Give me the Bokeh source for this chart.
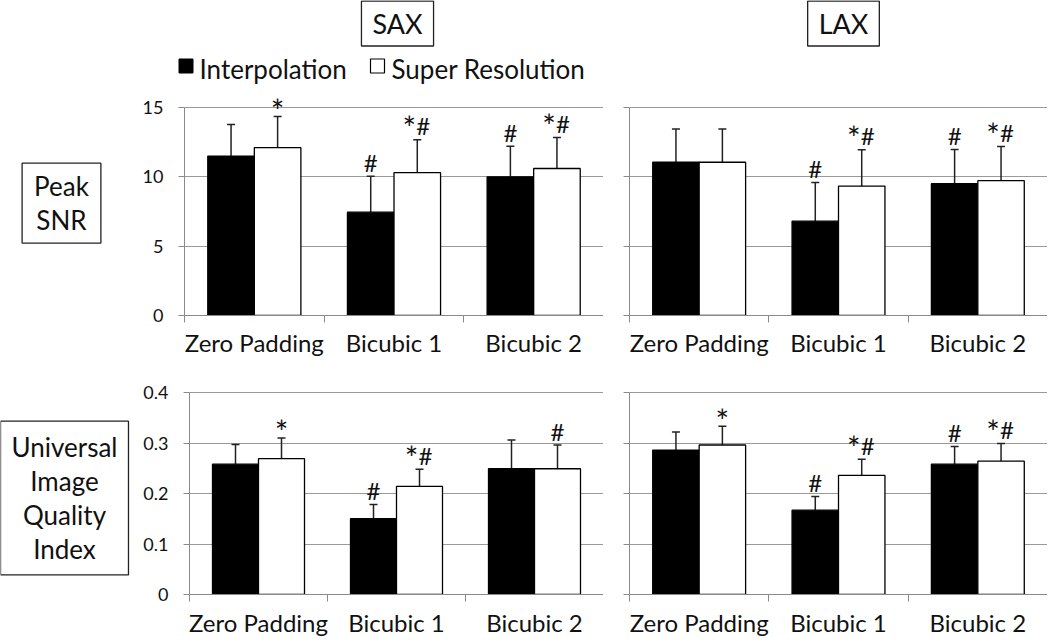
from bokeh.plotting import figure
from bokeh.layouts import column, row
from bokeh.models import (Range1d, FixedTicker, ColumnDataSource, Whisker, TeeHead,
                          Label, CustomJSTickFormatter)
from bokeh.core.properties import value
from bokeh.embed import file_html
from bokeh.resources import INLINE

FONT = "Lato"

# ---------------- data ----------------
categories = ["Zero Padding", "Bicubic 1", "Bicubic 2"]
series = ["Interpolation", "Super Resolution"]
views = ["SAX", "LAX"]
metrics = ["Peak\nSNR", "Universal\nImage\nQuality\nIndex"]

psnr_ticks = [0, 5, 10, 15]
uiqi_ticks = [0, 0.1, 0.2, 0.3, 0.4]

sax_psnr_interp = [11.5, 7.45, 10.0]
sax_psnr_interp_sd = [2.27, 2.6, 2.2]
sax_psnr_sr = [12.1, 10.3, 10.6]
sax_psnr_sr_sd = [2.25, 2.38, 2.23]
sax_psnr_marks_interp = ["", "#", "#"]
sax_psnr_marks_sr = ["*", "*#", "*#"]

lax_psnr_interp = [11.05, 6.8, 9.5]
lax_psnr_interp_sd = [2.4, 2.8, 2.48]
lax_psnr_sr = [11.05, 9.33, 9.72]
lax_psnr_sr_sd = [2.4, 2.62, 2.46]
lax_psnr_marks_interp = ["", "#", "#"]
lax_psnr_marks_sr = ["", "*#", "*#"]

sax_uiqi_interp = [0.258, 0.150, 0.249]
sax_uiqi_interp_sd = [0.039, 0.028, 0.057]
sax_uiqi_sr = [0.269, 0.214, 0.249]
sax_uiqi_sr_sd = [0.041, 0.034, 0.047]
sax_uiqi_marks_interp = ["", "#", ""]
sax_uiqi_marks_sr = ["*", "*#", "#"]

lax_uiqi_interp = [0.286, 0.167, 0.258]
lax_uiqi_interp_sd = [0.036, 0.027, 0.035]
lax_uiqi_sr = [0.296, 0.236, 0.264]
lax_uiqi_sr_sd = [0.037, 0.032, 0.035]
lax_uiqi_marks_interp = ["", "#", "#"]
lax_uiqi_marks_sr = ["*", "*#", "*#"]

GRID = "#9a9a9a"
AXIS = "#8a8a8a"
ERR = "#222222"
TXT = "#111111"


def panel(interp, interp_sd, sr, sr_sd, m_i, m_s, yticks, ytop, width, height,
          left, bottom, show_labels, xstandoff):
    p = figure(width=width, height=height, x_range=Range1d(0, 3),
               y_range=Range1d(0, ytop), output_backend="svg", toolbar_location=None,
               min_border_left=left, min_border_right=0, min_border_top=0,
               min_border_bottom=bottom)
    p.outline_line_color = None
    p.background_fill_color = "white"
    p.border_fill_color = "white"

    centers = [i + 0.5 for i in range(len(categories))]
    for vals, sds, marks, offs, fill in ((interp, interp_sd, m_i, -1 / 6, "black"),
                                         (sr, sr_sd, m_s, 1 / 6, "white")):
        xs = [c + offs for c in centers]
        ups = [v + e for v, e in zip(vals, sds)]
        src = ColumnDataSource(dict(x=xs, top=vals, up=ups, mark=marks))
        p.vbar(x="x", top="top", bottom=0, width=1 / 3, source=src,
               fill_color=fill, line_color="black", line_width=1.3)
        p.add_layout(Whisker(base="x", lower="top", upper="up", source=src,
                             dimension="height", line_color=ERR, line_width=1.5,
                             lower_head=None,
                             upper_head=TeeHead(size=8, line_color=ERR, line_width=1.5)))
        # significance marks: '#' glyphs, asterisk paired with '#', lone asterisk
        hash_x, hash_y, hash_dx = [], [], []
        pair_x, pair_y = [], []
        lone_x, lone_y = [], []
        for x, u, m in zip(xs, ups, marks):
            if "#" in m:
                hash_x.append(x); hash_y.append(u)
                hash_dx.append(6 if "*" in m else 0)
                if "*" in m:
                    pair_x.append(x); pair_y.append(u)
            elif "*" in m:
                lone_x.append(x); lone_y.append(u)
        if hash_x:
            p.text(x=hash_x, y=hash_y, text=["#"] * len(hash_x), x_offset=hash_dx,
                   text_align="center", text_baseline="alphabetic", y_offset=-14,
                   text_font=value(FONT), text_font_size="24px", text_color=TXT)
        if pair_x:
            p.text(x=pair_x, y=pair_y, text=["*"] * len(pair_x), x_offset=-8,
                   text_align="center", text_baseline="alphabetic", y_offset=-12,
                   text_font=value(FONT), text_font_size="32px", text_color=TXT)
        if lone_x:
            p.text(x=lone_x, y=lone_y, text=["*"] * len(lone_x),
                   text_align="center", text_baseline="alphabetic", y_offset=-6,
                   text_font=value(FONT), text_font_size="32px", text_color=TXT)

    # y axis
    yax = p.yaxis[0]
    if show_labels:
        yax.ticker = FixedTicker(ticks=yticks)
        yax.major_tick_line_color = AXIS
        yax.major_tick_in = 0
        yax.major_tick_out = 6
        yax.minor_tick_line_color = None
        yax.major_label_standoff = 15
        yax.major_label_text_font = FONT
        yax.major_label_text_color = TXT
        yax.major_label_text_font_size = "18px"
    else:
        yax.ticker = FixedTicker(ticks=[], minor_ticks=yticks)
        yax.major_tick_line_color = None
        yax.minor_tick_line_color = AXIS
        yax.minor_tick_in = 0
        yax.minor_tick_out = 6
    yax.bounds = (0, yticks[-1])
    yax.axis_line_color = AXIS
    p.ygrid.ticker = FixedTicker(ticks=yticks)
    p.ygrid.grid_line_color = GRID
    p.xgrid.visible = False

    # x axis
    xax = p.xaxis[0]
    xax.ticker = FixedTicker(ticks=centers, minor_ticks=[0, 1, 2, 3])
    xax.formatter = CustomJSTickFormatter(args=dict(labels=categories),
                                          code="return labels[Math.floor(tick)]")
    xax.axis_line_color = AXIS
    xax.major_tick_line_color = None
    xax.major_tick_in = 0
    xax.major_tick_out = 0
    xax.minor_tick_line_color = AXIS
    xax.minor_tick_in = 0
    xax.minor_tick_out = 7
    xax.major_label_standoff = xstandoff
    xax.major_label_text_font = FONT
    xax.major_label_text_color = TXT
    xax.major_label_text_font_size = "24px"
    return p


def canvas(w, h):
    p = figure(width=w, height=h, x_range=Range1d(0, w), y_range=Range1d(h, 0),
               output_backend="svg", toolbar_location=None, min_border=0,
               x_axis_location=None, y_axis_location=None)
    p.grid.visible = False
    p.outline_line_color = None
    p.border_fill_color = "white"
    return p


def boxed(p, x, y, text, size, pad_x, pad_y, lh=1.2):
    p.add_layout(Label(x=x, y=y, text=text, text_align="center", text_baseline="middle",
                       text_font=FONT, text_font_size=size, text_color=TXT,
                       text_line_height=lh,
                       border_line_color="#222222", border_line_width=1.3,
                       background_fill_color="white",
                       padding=dict(top=pad_y, bottom=pad_y, left=pad_x, right=pad_x)))


# ---------------- layout ----------------
W_LAB = 130
HEAD_H = 91
TOP_H = 287
BOT_H = 262
TL_FRAME, TR_FRAME, BL_FRAME = 419, 418, 414

header = canvas(184 + TL_FRAME + 26 + TR_FRAME, HEAD_H)
boxed(header, 397, 23, views[0], "27px", 11, 6)
boxed(header, 843, 23, views[1], "27px", 11, 6)
header.rect(x=[185.5], y=[65.5], width=14, height=14, fill_color="black", line_color="black")
header.text(x=[199], y=[68], text=[series[0]], text_align="left", text_baseline="alphabetic",
            text_font=value(FONT), text_font_size="26px", text_color=TXT)
header.rect(x=[377], y=[65.5], width=14, height=14, fill_color="white", line_color="black",
            line_width=1.2)
header.text(x=[391], y=[68], text=[series[1]], text_align="left", text_baseline="alphabetic",
            text_font=value(FONT), text_font_size="26px", text_color=TXT)

lab_top = canvas(W_LAB, TOP_H)
boxed(lab_top, 61, 143, metrics[0], "26px", 12, 7, 1.06)
lab_bot = canvas(W_LAB, BOT_H)
boxed(lab_bot, 64, 145, metrics[1], "26px", 11, 10, 1.06)

ytop_psnr = 15 + 16 / (208 / 15)
ytop_uiqi = 0.4 + 14 / (202 / 0.4)

tl = panel(sax_psnr_interp, sax_psnr_interp_sd, sax_psnr_sr, sax_psnr_sr_sd,
           sax_psnr_marks_interp, sax_psnr_marks_sr, psnr_ticks, ytop_psnr,
           (184 - W_LAB) + TL_FRAME, TOP_H, 184 - W_LAB, 63, True, 5)
tr = panel(lax_psnr_interp, lax_psnr_interp_sd, lax_psnr_sr, lax_psnr_sr_sd,
           lax_psnr_marks_interp, lax_psnr_marks_sr, psnr_ticks, ytop_psnr,
           26 + TR_FRAME, TOP_H, 26, 63, False, 5)
bl = panel(sax_uiqi_interp, sax_uiqi_interp_sd, sax_uiqi_sr, sax_uiqi_sr_sd,
           sax_uiqi_marks_interp, sax_uiqi_marks_sr, uiqi_ticks, ytop_uiqi,
           (189 - W_LAB) + BL_FRAME, BOT_H, 189 - W_LAB, 46, True, 6)
br = panel(lax_uiqi_interp, lax_uiqi_interp_sd, lax_uiqi_sr, lax_uiqi_sr_sd,
           lax_uiqi_marks_interp, lax_uiqi_marks_sr, uiqi_ticks, ytop_uiqi,
           26 + TR_FRAME, BOT_H, 26, 46, False, 6)

layout = column(header, row(lab_top, tl, tr), row(lab_bot, bl, br))

open("out.html", "w").write(file_html(layout, INLINE))
